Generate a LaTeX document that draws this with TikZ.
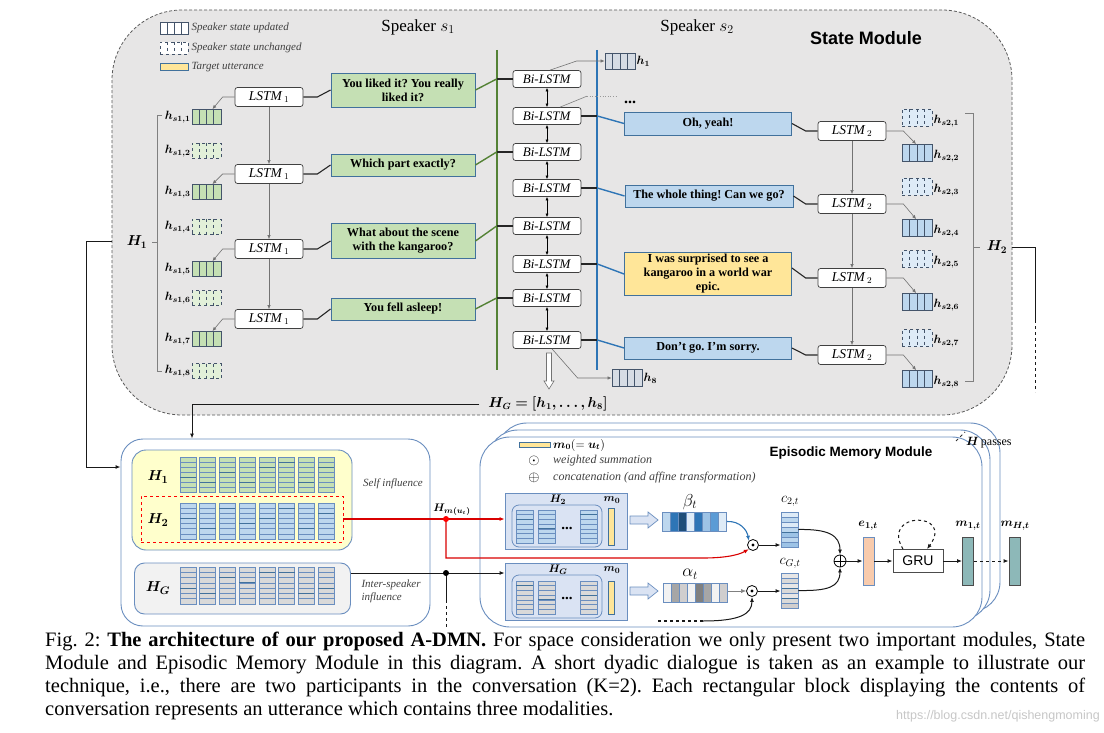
\documentclass[tikz,border=0pt]{standalone}
\usepackage{fontspec}
\setmainfont{Liberation Serif}
\setsansfont{Liberation Sans}
\usepackage{amsmath,bm}
\usetikzlibrary{arrows.meta,calc}
\frenchspacing

\definecolor{smfill}{HTML}{E7E6E6}
\definecolor{grn}{HTML}{C5E0B4}
\definecolor{grnl}{HTML}{E2F0D9}
\definecolor{blu}{HTML}{BDD7EE}
\definecolor{blul}{HTML}{DEEBF7}
\definecolor{blum}{HTML}{9DC3E6}
\definecolor{yel}{HTML}{FFE699}
\definecolor{uttb}{HTML}{41719C}
\definecolor{gline}{HTML}{548235}
\definecolor{bline}{HTML}{2E75B6}
\definecolor{hvcol}{HTML}{44546A}
\definecolor{hgfill}{HTML}{D6DCE4}
\definecolor{lyel}{HTML}{FFFFCC}
\definecolor{bframe}{HTML}{6A8EBF}
\definecolor{gboxf}{HTML}{F2F2F2}
\definecolor{attf}{HTML}{DAE3F3}
\definecolor{ggray}{HTML}{D9D9D9}
\definecolor{memcol}{HTML}{8DB8B8}
\definecolor{ecol}{HTML}{F8CBAD}
\definecolor{bb1}{HTML}{BDD7EE}
\definecolor{bb2}{HTML}{2E75B6}
\definecolor{bb3}{HTML}{1F4E79}
\definecolor{bb4}{HTML}{DEEBF7}
\definecolor{bb5}{HTML}{5B9BD5}
\definecolor{ga1}{HTML}{F2F2F2}
\definecolor{ga2}{HTML}{A6A6A6}
\definecolor{ga3}{HTML}{D0CECE}
\definecolor{ga4}{HTML}{808080}

% 4-cell state vector: name, x, y, w, h, fill, style
\newcommand{\hv}[7]{%
  \node[draw=hvcol, line width=0.8pt, minimum width=#4pt, minimum height=#5pt, inner sep=0pt, fill=#6, #7] (#1) at (#2,#3) {};
  \foreach \k in {1,2,3}{\draw[hvcol, line width=1pt, #7] ({#2-#4/2+\k*#4/4},{#3-#5/2}) -- ++(0,#5);}
}
% matrix column: x, ytop, width, height, fill, border, darkrow
\newcommand{\mcol}[7]{%
  \foreach \r in {0,...,6}{\draw[#6, fill=#5, line width=0.6pt] ({#1},{#2+\r*#4/7}) rectangle ++(#3,{#4/7});}
  \draw[uttb, line width=1pt] ({#1},{#2+#7*#4/7}) -- ++(#3,0);
}

\begin{document}
\begin{tikzpicture}[x=1pt,y=-1pt,
  lstm/.style={draw=black!75, fill=white, rounded corners=2.5pt, minimum width=68pt, minimum height=19pt, inner sep=0pt, font=\fontsize{13.5}{15}\selectfont, line width=0.7pt},
  bil/.style={lstm, minimum height=17pt, font=\fontsize{13}{14}\selectfont},
  utt/.style={draw=uttb, line width=0.9pt, align=center, inner sep=0pt, font=\bfseries\fontsize{12.2}{14}\selectfont},
  thinar/.style={draw=black!55, line width=0.6pt, -{Latex[length=4pt,width=3.5pt]}},
  conn/.style={black!85, line width=1.1pt},
  conn2/.style={black!90, line width=1pt},
  arr/.style={-{Latex[length=5pt,width=4pt]}},
  lab/.style={font=\fontsize{12}{14}\selectfont, inner sep=1pt},
  legt/.style={anchor=west, font=\itshape\fontsize{11}{13}\selectfont, text=black!75, inner sep=1pt},
  emm/.style={draw=bframe, line width=0.9pt, fill=white, rounded corners=30pt, inner sep=0pt},
]
\useasboundingbox (0,0) rectangle (1104,733);
\fill[white] (0,0) rectangle (1104,733);

% ================= State module =================
\node[draw=black!65, dash pattern=on 3pt off 2pt, line width=0.8pt, fill=smfill, rounded corners=70pt, minimum width=900pt, minimum height=405pt, inner sep=0pt] (sm) at (562,212.5) {};
\node[font=\fontsize{17}{20}\selectfont] (sp1) at (418,27) {Speaker $s_1$};
\node[font=\fontsize{17}{20}\selectfont] (sp2) at (697,27) {Speaker $s_2$};
\node[font=\sffamily\bfseries\fontsize{18}{20}\selectfont] (smt) at (866,38) {State Module};

% legend
\hv{lg1}{174}{28}{28}{12}{white}{solid}
\hv{lg2}{174}{48}{28}{12}{white}{dashed}
\node[draw=uttb, fill=yel, minimum width=28pt, minimum height=7pt, inner sep=0pt, line width=0.7pt] (lg3) at (174,67) {};
\node[legt] (lgt1) at ($(lg1.east)+(2,0)$) {Speaker state updated};
\node[legt] (lgt2) at ($(lg2.east)+(2,0)$) {Speaker state unchanged};
\node[legt] (lgt3) at ($(lg3.east)+(2,0)$) {Target utterance};

% speaker 1 states
\foreach \n/\y/\f/\s in {1/117/grn/solid, 2/151/grnl/dashed, 3/192/grn/solid, 4/227/grnl/dashed, 5/269/grn/solid, 6/298/grnl/dashed, 7/339/grn/solid, 8/371/grnl/dashed}{
  \hv{hsa\n}{206.5}{\y}{29}{15}{\f}{\s}
  \node[lab, anchor=east] (hsal\n) at (hsa\n.west) {$\bm{h}_{\bm{s1,\n}}$};
}
% speaker 2 states
\foreach \n/\y/\f/\s in {1/118/blul/dashed, 2/153/blu/solid, 3/187/blul/dashed, 4/228/blu/solid, 5/259/blul/dashed, 6/302/blu/solid, 7/338/blul/dashed, 8/379/blu/solid}{
  \hv{hsb\n}{917}{\y}{30}{17}{\f}{\s}
  \node[lab, anchor=west] (hsbl\n) at ($(hsb\n.east)+(0,3)$) {$\bm{h}_{\bm{s2,\n}}$};
}

% LSTMs
\foreach \n/\y in {1/97,2/174,3/249,4/319}{\node[lstm] (la\n) at (269,\y) {\textit{LSTM}$_{\,1}$};}
\foreach \n/\y in {1/131,2/204,3/278,4/355}{\node[lstm] (lb\n) at (852,\y) {\textit{LSTM}$_{\,2}$};}
\foreach \a/\b in {1/2,2/3,3/4}{
  \draw[thinar] (la\a.south) -- (la\b.north);
  \draw[thinar] (lb\a.south) -- (lb\b.north);
}
\foreach \a/\h in {1/1,2/3,3/5,4/7}{\draw[thinar] (la\a.west) -- ++(-12,0) -- ($(hsa\h.north west)!0.7!(hsa\h.north east)$);}
\foreach \a/\h in {1/2,2/4,3/6,4/8}{\draw[thinar] (lb\a.east) -- ++(17,0) -- ($(hsb\h.north west)!0.47!(hsb\h.north east)$);}

% utterances
\node[utt, fill=grn, minimum width=144pt, minimum height=34pt] (ua1) at (403,90) {You liked it? You really\\liked it?};
\node[utt, fill=grn, minimum width=144pt, minimum height=22pt] (ua2) at (403,165) {Which part exactly?};
\node[utt, fill=grn, minimum width=144pt, minimum height=35pt] (ua3) at (403,241) {What about the scene\\with the kangaroo?};
\node[utt, fill=grn, minimum width=144pt, minimum height=22pt] (ua4) at (403,309) {You fell asleep!};
\node[utt, fill=blu, minimum width=167pt, minimum height=23pt] (ub1) at (708,123.5) {Oh, yeah!};
\node[utt, fill=blu, minimum width=168pt, minimum height=22pt] (ub2) at (709,196) {The whole thing! Can we go?};
\node[utt, fill=yel, minimum width=167pt, minimum height=43pt] (ub3) at (708,274) {I was surprised to see a\\kangaroo in a world war\\epic.};
\node[utt, fill=blu, minimum width=167pt, minimum height=22pt] (ub4) at (708,348) {Don't go. I'm sorry.};

% Bi-LSTMs
\foreach \n/\y in {1/79,2/116,3/152,4/188,5/226,6/264,7/298,8/340}{\node[bil] (bi\n) at (547,\y) {\textit{Bi-LSTM}};}
\foreach \a/\b in {1/2,2/3,3/4,4/5,5/6,6/7,7/8}{\draw[{Latex[length=3.5pt,width=3pt]}-{Latex[length=3.5pt,width=3pt]}, line width=0.6pt] (bi\a.south) -- (bi\b.north);}

% speaker lines
\coordinate (gtop) at (497,50); \coordinate (gbot) at (497,370);
\coordinate (btop) at (597,50); \coordinate (bbot) at (597,370);
\draw[gline, line width=1.7pt] (gtop) -- (gbot);
\draw[bline, line width=1.7pt] (btop) -- (bbot);

\foreach \u/\b in {1/1,2/3,3/5,4/7}{
  \draw[conn] (la\u.east) -- ++(14,0) -- (ua\u.west);
  \draw[gline, line width=1.4pt] (ua\u.east) -- ($(bi\b.west)+(-16,0)$);
  \draw[conn] ($(bi\b.west)+(-16,0)$) -- (bi\b.west);
}
\foreach \v/\b in {1/2,2/4,3/6,4/8}{
  \draw[conn] (bi\b.east) -- ($(bi\b.east)+(16,0)$);
  \draw[bline, line width=1.4pt] ($(bi\b.east)+(16,0)$) -- (ub\v.west);
}
\draw[conn] (ub1.east) -- ($(lb1.west)+(-12,0)$) -- (lb1.west);
\draw[conn] (ub2.east) -- ($(lb2.west)+(-12,0)$) -- (lb2.west);
\draw[conn] ($(ub3.east)+(0,-6)$) -- ($(lb3.west)+(-12,0)$) -- (lb3.west);
\draw[conn] (ub4.east) -- ($(lb4.west)+(-12,0)$) -- (lb4.west);

% global states
\hv{h1}{620}{61}{30}{16}{hgfill}{solid}
\hv{h8}{627}{378}{30}{17}{hgfill}{solid}
\node[lab, anchor=west] (h1l) at (h1.east) {$\bm{h_1}$};
\node[lab, anchor=west] (h8l) at (h8.east) {$\bm{h_8}$};
\draw[thinar] ($(bi1.north)+(3,0)$) -- ($(h1.west)+(-28,0)$) -- (h1.west);
\draw[black!50, line width=0.6pt] ($(bi2.north)+(13,0)$) -- ++(27,-11) coordinate (dd);
\draw[black!40, line width=0.6pt, dotted] (dd) -- ++(30,0);
\node[font=\bfseries\fontsize{16}{16}\selectfont, inner sep=0pt] (dots) at (630,102) {...};
\draw[thinar] ($(bi8.south)+(5,0)$) -- ($(h8.west)+(-34,0)$) -- (h8.west);
\draw[black!55, fill=white, line width=0.6pt] (546.5,353) -- (551.5,353) -- (551.5,381) -- (554,381) -- (549,389) -- (544,381) -- (546.5,381) -- cycle;
\node[font=\fontsize{13.5}{15}\selectfont, inner sep=1pt] (HG) at (548,404) {$\bm{H_G = [h_1, \ldots, h_8]}$};

% brackets
\draw[black!50, line width=0.7pt] (162,115) -- (157,115) -- (157,371) -- (162,371);
\draw[black!50, line width=0.7pt] (157,242) -- (152,242);
\node[font=\fontsize{14}{14}\selectfont] (H1) at (137,242) {$\bm{H_1}$};
\draw[black!50, line width=0.7pt] (965,113) -- (973,113) -- (973,381) -- (965,381);
\draw[black!50, line width=0.7pt] (973,247) -- (980,247);
\node[font=\fontsize{14}{14}\selectfont] (H2) at (997,247) {$\bm{H_2}$};

% ================= Lower left =================
\node[draw=bframe, line width=0.9pt, rounded corners=22pt, minimum width=309pt, minimum height=187pt, fill=white, inner sep=0pt] (lbox) at (275.5,532.5) {};
\node[draw=bframe, line width=0.9pt, fill=lyel, rounded corners=14pt, minimum width=220pt, minimum height=100pt, inner sep=0pt] (ybox) at (242,500) {};
\node[draw=red, dashed, line width=0.8pt, minimum width=202pt, minimum height=46pt, inner sep=0pt] (rbox) at (242,519) {};
\node[draw=bframe, line width=0.9pt, fill=gboxf, rounded corners=10pt, minimum width=216pt, minimum height=51pt, inner sep=0pt] (gboxn) at (242.5,588.5) {};
\node[font=\fontsize{15}{15}\selectfont] (lH1) at (158,477) {$\bm{H_1}$};
\node[font=\fontsize{15}{15}\selectfont] (lH2) at (158,520) {$\bm{H_2}$};
\node[font=\fontsize{15}{15}\selectfont] (lHG) at (158,588) {$\bm{H_G}$};
\foreach \k/\d in {0/4,1/5,2/3,3/5,4/2,5/1,6/5,7/2}{\mcol{180+19.7*\k}{457}{16}{35}{grn}{bframe}{\d}}
\foreach \k/\d in {0/3,1/5,2/1,3/4,4/3,5/1,6/5,7/2}{\mcol{180+19.7*\k}{503}{16}{36}{blu}{bframe}{\d}}
\foreach \k/\d in {0/4,1/5,2/2,3/3,4/1,5/1,6/5,7/4}{\mcol{180+19.7*\k}{567}{16}{37}{ggray}{bframe}{\d}}
\node[font=\itshape\fontsize{11}{13}\selectfont, text=black!75] (self) at (393,484) {Self influence};
\node[anchor=west, align=left, font=\itshape\fontsize{11}{13}\selectfont, text=black!75] (inter) at (358,591) {Inter-speaker\\influence};

% connectors from state module
\coordinate (smw) at (112,241); \coordinate (c86a) at (86,241); \coordinate (c86b) at (86,467);
\draw[conn2, arr] (smw) -- (c86a) -- (c86b) -- (c86b -| lbox.west);
\coordinate (hgc) at (192,404);
\draw[conn2, arr] ($(HG.west)+(-8,0)$) -- (hgc) -- (hgc |- lbox.north);
\coordinate (sme) at (1012,247); \coordinate (c1035a) at (1035,247);
\coordinate (c1035b) at (1035,320); \coordinate (c1035c) at (1035,392);
\draw[conn2] (sme) -- (c1035a) -- (c1035b);
\draw[conn2, dashed] (c1035b) -- (c1035c);

% ================= Episodic memory =================
\node[emm, minimum width=503pt, minimum height=189pt] (emm3) at (748.5,517.5) {};
\node[emm, minimum width=502pt, minimum height=190pt] (emm2) at (739,525) {};
\node[emm, minimum width=502pt, minimum height=190pt] (emm1) at (731,532) {};
\draw[black!80, dashed, line width=0.8pt] (956,441) -- (965,432);
\node[anchor=west, font=\fontsize{12}{14}\selectfont, inner sep=1pt] (hp) at (965,443) {$\bm{H}$\,passes};
\node[anchor=west, font=\sffamily\bfseries\fontsize{13.5}{15}\selectfont] (emt) at (766,453) {Episodic Memory Module};

\node[draw=uttb, fill=yel, minimum width=31pt, minimum height=5pt, inner sep=0pt, line width=0.6pt] (lgm) at (534.5,445) {};
\node[anchor=west, font=\fontsize{11.5}{13}\selectfont, inner sep=1pt] (lgmt) at (552,445) {$\bm{m_0}(=\bm{u_t})$};
\node[font=\fontsize{14}{14}\selectfont, inner sep=0pt] (lgo) at (534,461) {$\odot$};
\node[legt, font=\itshape\fontsize{12}{13}\selectfont] (lgot) at (552,461) {weighted summation};
\node[font=\fontsize{14}{14}\selectfont, inner sep=0pt] (lgp) at (534,478) {$\oplus$};
\node[legt, font=\itshape\fontsize{12}{13}\selectfont] (lgpt) at (552,478) {concatenation (and affine transformation)};

% attention on H2
\node[draw=bframe, fill=attf, minimum width=122pt, minimum height=56pt, inner sep=0pt, line width=0.8pt] (att2) at (566,521) {};
\node[draw=bframe, rounded corners=7pt, minimum width=90pt, minimum height=42pt, inner sep=0pt, line width=0.8pt] (in2) at (557,526) {};
\foreach \x/\d in {516/2,538/4,580/1}{\mcol{\x}{510}{17}{33}{blu}{bframe}{\d}}
\node[font=\bfseries\fontsize{15}{15}\selectfont, inner sep=0pt] (dots2) at (567,528) {...};
\node[draw=uttb, fill=yel, minimum width=6pt, minimum height=37pt, inner sep=0pt, line width=0.6pt] (m02) at (611,526.5) {};
\node[font=\fontsize{11}{12}\selectfont] (att2H) at (558,500) {$\bm{H_2}$};
\node[font=\fontsize{11}{12}\selectfont] (att2m) at (612,500) {$\bm{m_0}$};

% attention on HG
\node[draw=bframe, fill=attf, minimum width=122pt, minimum height=57pt, inner sep=0pt, line width=0.8pt] (attG) at (566,591.5) {};
\node[draw=bframe, rounded corners=7pt, minimum width=90pt, minimum height=43pt, inner sep=0pt, line width=0.8pt] (inG) at (557,596.5) {};
\foreach \x/\d in {516/1,538/4,580/3}{\mcol{\x}{581}{17}{33}{ggray}{bframe}{\d}}
\node[font=\bfseries\fontsize{15}{15}\selectfont, inner sep=0pt] (dotsG) at (567,598) {...};
\node[draw=uttb, fill=yel, minimum width=6pt, minimum height=33pt, inner sep=0pt, line width=0.6pt] (m0G) at (611,598) {};
\node[font=\fontsize{11}{12}\selectfont] (attGH) at (558,570) {$\bm{H_G}$};
\node[font=\fontsize{11}{12}\selectfont] (attGm) at (612,570) {$\bm{m_0}$};

% hollow arrows
\draw[bframe, fill=attf, line width=0.7pt] (630,516) -- (648,516) -- (648,512) -- (658,520) -- (648,528) -- (648,524) -- (630,524) -- cycle;
\draw[bframe, fill=attf, line width=0.7pt] (630,587) -- (648,587) -- (648,583) -- (658,591) -- (648,599) -- (648,595) -- (630,595) -- cycle;

% beta / alpha
\foreach \i/\c in {0/bb1,1/bb2,2/bb3,3/bb4,4/bb2,5/blum,6/bb5,7/bb4}{\fill[\c] ({662+\i*8.1},512) rectangle ++(8.1,19);}
\foreach \i in {1,...,7}{\draw[bframe, line width=0.5pt] ({662+\i*8.1},512) -- ++(0,19);}
\node[draw=bframe, line width=0.8pt, minimum width=64.8pt, minimum height=19pt, inner sep=0pt] (beta) at (694.4,521.5) {};
\node[font=\fontsize{18}{18}\selectfont] (betal) at (690,502) {$\beta_t$};
\foreach \i/\c in {0/ga1,1/ga2,2/ga3,3/ga1,4/ga4,5/ga2,6/ga1,7/ga3}{\fill[\c] ({663+\i*8.1},583) rectangle ++(8.1,19);}
\foreach \i in {1,...,7}{\draw[bframe, line width=0.5pt] ({663+\i*8.1},583) -- ++(0,19);}
\node[draw=bframe, line width=0.8pt, minimum width=64.8pt, minimum height=19pt, inner sep=0pt] (alpha) at (695.4,592.5) {};
\node[font=\fontsize{18}{18}\selectfont] (alphal) at (690,574) {$\alpha_t$};

% operators
\node[circle, draw, line width=0.8pt, minimum size=11pt, inner sep=0pt, fill=white] (od1) at (753,545) {};
\fill (od1) circle (1.6);
\node[circle, draw, line width=0.8pt, minimum size=11pt, inner sep=0pt, fill=white] (od2) at (752,591) {};
\fill (od2) circle (1.6);
\node[circle, draw, line width=0.8pt, minimum size=12pt, inner sep=0pt, fill=white] (op) at (840,561) {};
\draw[line width=0.8pt] (op.north) -- (op.south) (op.west) -- (op.east);

% context vectors
\foreach \r/\c in {0/blul,1/blu,2/blul,3/blu,4/blum,5/blu,6/blum}{\draw[bframe, fill=\c, line width=0.5pt] (781,{512+\r*5}) rectangle ++(17,5);}
\draw[uttb, line width=1pt] (781,532) -- ++(17,0);
\node[draw=bframe, line width=0.8pt, minimum width=17pt, minimum height=35pt, inner sep=0pt] (c2t) at (789.5,529.5) {};
\foreach \r/\c in {0/smfill,1/ggray,2/smfill,3/ggray,4/smfill,5/ggray,6/ga3}{\draw[bframe, fill=\c, line width=0.5pt] (781,{573+\r*5}) rectangle ++(17,5);}
\draw[uttb, line width=1pt] (781,588) -- ++(17,0);
\draw[uttb, line width=1pt] (781,598) -- ++(17,0);
\node[draw=bframe, line width=0.8pt, minimum width=17pt, minimum height=35pt, inner sep=0pt] (cGt) at (789.5,590.5) {};
\node[font=\fontsize{14}{14}\selectfont] (c2l) at (790,501) {$c_{2,t}$};
\node[font=\fontsize{14}{14}\selectfont] (cGl) at (790,563) {$c_{G,t}$};

% red and black inputs
\coordinate (rdot) at (446,519); \coordinate (rlow) at (446,558); \coordinate (rlow2) at (703,558);
\draw[red!85!black, line width=1.1pt, arr] (rbox.east) -- (rbox.east -| att2.west);
\draw[red!85!black, line width=1.1pt, arr] (rdot) -- (rlow) -- (rlow2) .. controls (732,558) and (742,553) .. (od1.south west);
\fill[red] (rdot) circle (3);
\node[font=\fontsize{11}{12}\selectfont, inner sep=0pt] (Hm) at (452,510) {$\bm{H_{m(u_t)}}$};
\coordinate (kdot) at (446,573); \coordinate (kd1) at (446,600); \coordinate (kd2) at (446,627);
\draw[conn2, arr] (kdot -| gboxn.east) -- (kdot -| attG.west);
\draw[conn2] (kdot) -- (kd1);
\draw[conn2, dashed] (kd1) -- (kd2);
\fill (kdot) circle (3);

% attention flow
\draw[bline, line width=1.1pt, arr] (beta.east) .. controls (740,521) and (747,530) .. (od1.north west);
\draw[conn2, arr] (od1.east) -- (od1.east -| c2t.west);
\draw[black!50, line width=0.6pt, arr] (alpha.east |- od2.west) -- (od2.west);
\coordinate (ds1) at (658,621); \coordinate (ds2) at (703,621);
\draw[conn2, dashed, line width=1.2pt] (ds1) -- (ds2);
\draw[conn2, arr] (ds2) .. controls (740,621) and (752,614) .. (od2.south);
\draw[conn2, arr] (od2.east) -- (od2.east -| cGt.west);
\draw[conn2, arr] (c2t.east) .. controls (828,529) and (840,535) .. (op.north);
\draw[conn2, arr] (cGt.east) .. controls (828,591) and (840,587) .. (op.south);

% memory update
\node[draw=bframe, fill=ecol, line width=0.7pt, minimum width=11pt, minimum height=48pt, inner sep=0pt] (e1) at (868.5,561) {};
\node[draw=black!70, fill=white, line width=0.8pt, minimum width=50pt, minimum height=23pt, inner sep=0pt, font=\sffamily\fontsize{14}{14}\selectfont] (gru) at (918,561) {GRU};
\node[draw=black!70, fill=memcol, line width=0.8pt, minimum width=11pt, minimum height=48pt, inner sep=0pt] (m1) at (968,561) {};
\node[draw=black!70, fill=memcol, line width=0.8pt, minimum width=11pt, minimum height=48pt, inner sep=0pt] (mH) at (1014.5,561) {};
\draw[conn2, arr] (op.east) -- (e1.west);
\draw[conn2, arr] (e1.east) -- (gru.west);
\draw[conn2, arr] (gru.east) -- (m1.west);
\draw[conn2, dashed, arr] (m1.east) -- (mH.west);
\draw[conn2, dashed, arr] ($(gru.north)+(-15,0)$) .. controls +(-23,-38) and +(28,-38) .. ($(gru.north)+(9,0)$);
\node[font=\fontsize{13}{13}\selectfont] (el) at (868,526) {$\bm{e_{1,t}}$};
\node[font=\fontsize{13}{13}\selectfont] (m1l) at (968,526) {$\bm{m_{1,t}}$};
\node[font=\fontsize{13}{13}\selectfont] (mHl) at (1015,526) {$\bm{m_{H,t}}$};

% ================= Caption =================
\node[anchor=north west, text width=1040pt, align=justify, inner sep=0pt, font=\fontsize{20.5}{23}\selectfont] (cap) at (45,632) {Fig. 2: \textbf{The architecture of our proposed A-DMN.} For space consideration we only present two important modules, State\linebreak Module and Episodic Memory Module in this diagram. A short dyadic dialogue is taken as an example to illustrate our\linebreak technique, i.e., there are two participants in the conversation (K=2). Each rectangular block displaying the contents of\linebreak conversation represents an utterance which contains three modalities.};
\node[anchor=east, font=\sffamily\fontsize{12.5}{14}\selectfont, text=black!22, inner sep=0pt] (wm) at (1100,716) {https://blog.csdn.net/qishengmoming};
\end{tikzpicture}
\end{document}
